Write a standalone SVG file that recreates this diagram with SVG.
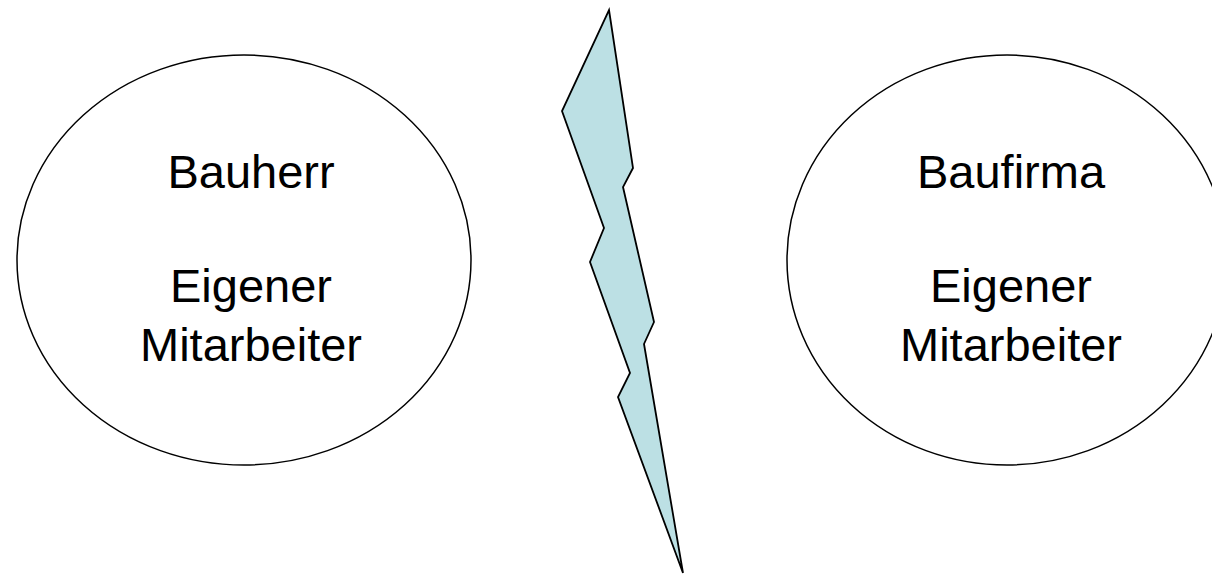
<svg xmlns="http://www.w3.org/2000/svg" width="1212" height="575" viewBox="0 0 1212 575">
<style>
.n{fill:#fff;stroke:#000;stroke-width:1.5}
.t{font-family:"Liberation Sans",Arial,sans-serif;font-size:47px;fill:#000;text-anchor:middle}
.bolt{fill:#bce0e4;stroke:#000;stroke-width:1.8;stroke-linejoin:miter}
</style>
<rect width="1212" height="575" fill="#fff"/>
<g id="bauherr">
<ellipse class="n" cx="244" cy="260" rx="227" ry="205"/>
<text class="t" x="251" y="188">Bauherr</text>
<text class="t" x="251" y="302">Eigener</text>
<text class="t" x="251" y="361">Mitarbeiter</text>
</g>
<g id="baufirma">
<ellipse class="n" cx="1007" cy="260" rx="220" ry="205"/>
<text class="t" x="1011" y="188">Baufirma</text>
<text class="t" x="1011" y="302">Eigener</text>
<text class="t" x="1011" y="361">Mitarbeiter</text>
</g>
<g id="blitz">
<polygon class="bolt" points="609,10 633,168 623,187 654,322 644,344 683,573 618,397 630,373 590,262 604,228 562,111"/>
</g>
</svg>
